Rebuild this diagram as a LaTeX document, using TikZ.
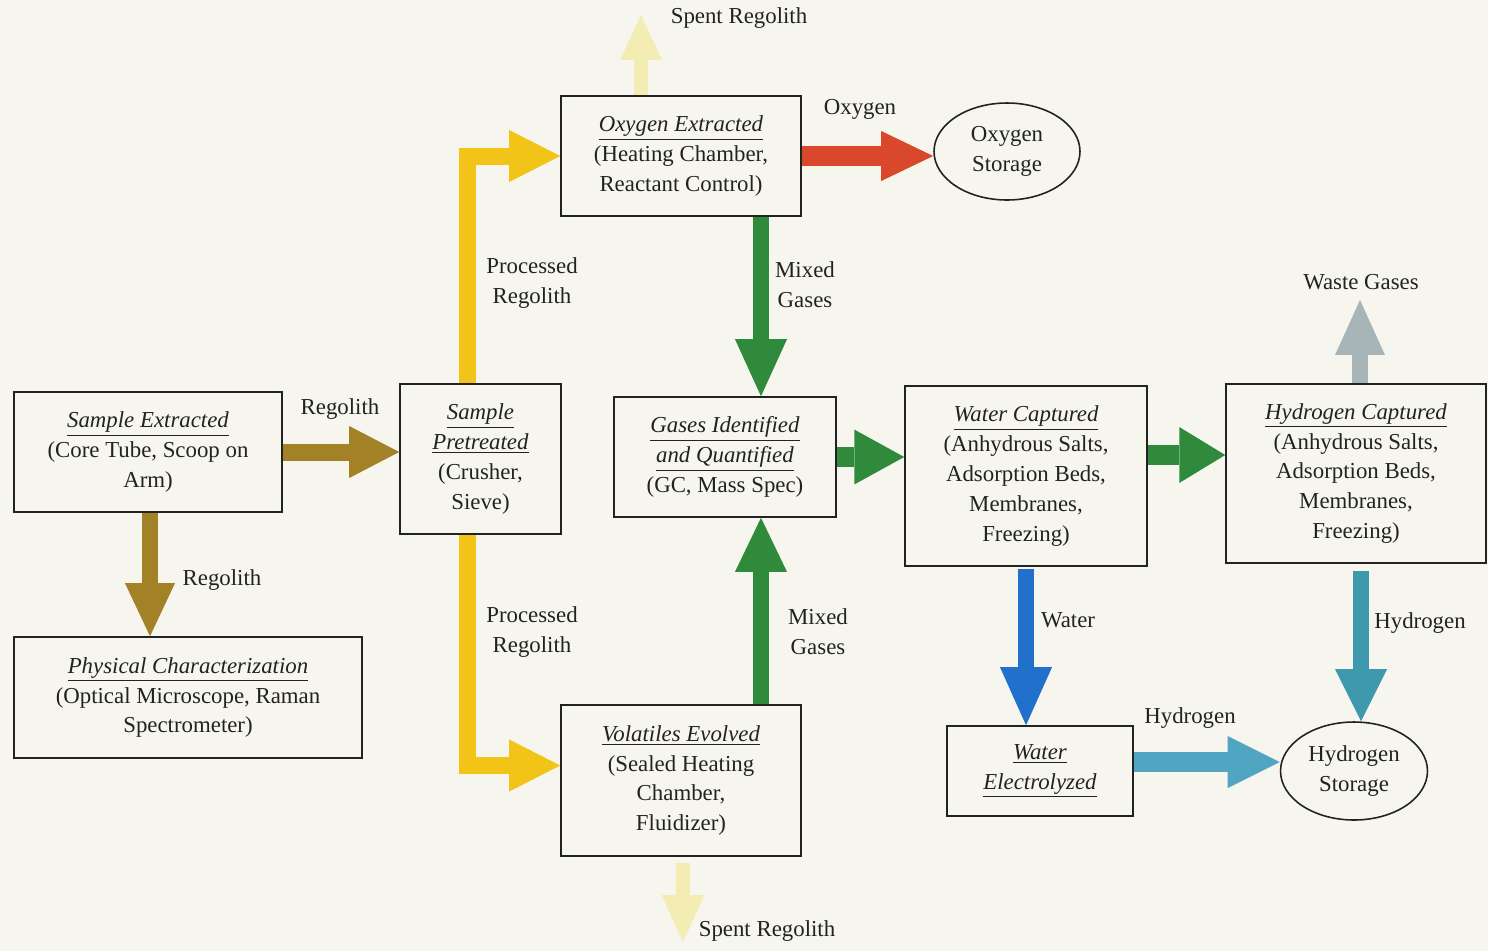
\documentclass[tikz,border=0pt]{standalone}
\usepackage{fontspec}
\setmainfont{Liberation Serif}
\usetikzlibrary{arrows.meta,shapes.geometric,calc}
\definecolor{bgc}{HTML}{F7F6EE}
\definecolor{txt}{HTML}{222222}
\definecolor{brownc}{HTML}{A38126}
\definecolor{yellowc}{HTML}{F2C418}
\definecolor{redc}{HTML}{D9482A}
\definecolor{greenc}{HTML}{2F8A3B}
\definecolor{bluec}{HTML}{2070CC}
\definecolor{tealc}{HTML}{4FA5C2}
\definecolor{teal2c}{HTML}{3F99AE}
\definecolor{grayc}{HTML}{A8B5B8}
\definecolor{palec}{HTML}{F3EDB4}
\begin{document}
\begin{tikzpicture}[x=0.02cm,y=-0.02cm,
  every node/.style={font=\fontsize{13}{17}\selectfont, text=txt},
  procbox/.style={draw=txt, line width=0.9pt, align=center, inner sep=0pt},
  storeel/.style={ellipse, draw=txt, line width=0.9pt, align=center, inner sep=0pt},
  lbl/.style={align=center, inner sep=1pt},
  fat/.style n args={4}{line width=#1, line cap=butt, line join=miter,
     -{Triangle[length=#2,width=#3,line width=0pt]}, draw=#4}]
\fill[bgc] (0,0) rectangle (1488,951);
\useasboundingbox (0,0) rectangle (1488,951);

% boxes
\node[procbox, minimum width=53.6mm, minimum height=24mm] (se) at (148,452)
  {\underline{\textit{Sample Extracted}}\\(Core Tube, Scoop on\\Arm)};
\node[procbox, minimum width=69.6mm, minimum height=24.2mm] (pc) at (188,697.5)
  {\underline{\textit{Physical Characterization}}\\(Optical Microscope, Raman\\Spectrometer)};
\node[procbox, minimum width=32.2mm, minimum height=30mm] (sp) at (480.5,459)
  {\underline{\textit{Sample}}\\\underline{\textit{Pretreated}}\\(Crusher,\\Sieve)};
\node[procbox, minimum width=48mm, minimum height=24mm] (oe) at (681,156)
  {\underline{\textit{Oxygen Extracted}}\\(Heating Chamber,\\Reactant Control)};
\node[storeel, minimum width=29.2mm, minimum height=19.4mm] (os) at (1007,151.5)
  {Oxygen\\Storage};
\node[procbox, minimum width=44.4mm, minimum height=24mm] (gi) at (725,457)
  {\underline{\textit{Gases Identified}}\\\underline{\textit{and Quantified}}\\(GC, Mass Spec)};
\node[procbox, minimum width=48.4mm, minimum height=36mm] (wc) at (1026,476)
  {\underline{\textit{Water Captured}}\\(Anhydrous Salts,\\Adsorption Beds,\\Membranes,\\Freezing)};
\node[procbox, minimum width=52mm, minimum height=35.8mm] (hc) at (1356,473.5)
  {\underline{\textit{Hydrogen Captured}}\\(Anhydrous Salts,\\Adsorption Beds,\\Membranes,\\Freezing)};
\node[procbox, minimum width=48mm, minimum height=30.2mm] (vs) at (681,780.5)
  {\underline{\textit{Volatiles Evolved}}\\(Sealed Heating\\Chamber,\\Fluidizer)};
\node[procbox, minimum width=37.2mm, minimum height=18mm] (we) at (1040,771)
  {\underline{\textit{Water}}\\\underline{\textit{Electrolyzed}}};
\node[storeel, minimum width=29.4mm, minimum height=19.6mm] (hs) at (1354,771)
  {Hydrogen\\Storage};

% free ends
\coordinate (spt) at (641,15);
\coordinate (spb) at (683,942);
\coordinate (wgt) at (1360,300);

% arrows
\draw[fat={3.4mm}{10mm}{10.4mm}{brownc}] (se.east) -- (se.east -| sp.west);
\draw[fat={3.2mm}{10.6mm}{10mm}{brownc}] ([xshift=0.4mm]se.south) -- ([xshift=0.4mm]se.south |- pc.north);
\draw[fat={3.4mm}{10.2mm}{10.4mm}{yellowc}] ([xshift=-2.6mm]sp.north) |- (oe.west);
\draw[fat={3.4mm}{10.2mm}{10.4mm}{yellowc}] ([xshift=-2.6mm]sp.south) |- ([yshift=3mm]vs.west);
\draw[fat={4mm}{10.4mm}{10mm}{redc}] (oe.east) -- (oe.east -| os.west);
\draw[fat={3.2mm}{11.4mm}{10.4mm}{greenc}] ([xshift=16mm]oe.south) -- ([xshift=16mm]oe.south |- gi.north);
\draw[fat={3.2mm}{10.8mm}{10.4mm}{greenc}] ([xshift=16mm]vs.north) -- ([xshift=16mm]vs.north |- gi.south);
\draw[fat={4mm}{10mm}{11mm}{greenc}] (gi.east) -- (gi.east -| wc.west);
\draw[fat={4mm}{9.2mm}{11.2mm}{greenc}] ([yshift=4.2mm]wc.east) -- ([yshift=4.2mm]wc.east -| hc.west);
\draw[fat={3.2mm}{11mm}{10mm}{grayc}] (hc.north -| wgt) -- (wgt);
\draw[fat={3.2mm}{11.6mm}{10.4mm}{bluec}] ([yshift=-0.4mm]wc.south) -- (wc.south |- we.north);
\draw[fat={4mm}{10.4mm}{10.4mm}{tealc}] ([yshift=1.8mm]we.east) -- ([yshift=1.8mm]we.east -| hs.west);
\draw[fat={3.2mm}{10.4mm}{10.4mm}{teal2c}] ([xshift=1mm,yshift=-1.4mm]hc.south) -- ([xshift=1mm]hc.south |- hs.north);
\draw[fat={2.8mm}{9mm}{8.4mm}{palec}] (oe.north -| spt) -- (spt);
\draw[fat={2.8mm}{9.4mm}{8.6mm}{palec}] ([yshift=-1.2mm]vs.south -| spb) -- (spb);

% labels
\node[lbl] (l1) at (739,18) {Spent Regolith};
\node[lbl] (l2) at (860,109) {Oxygen};
\node[lbl] (l3) at (532,283) {Processed\\Regolith};
\node[lbl] (l4) at (805,285) {Mixed\\Gases};
\node[lbl] (l5) at (340,409) {Regolith};
\node[lbl] (l6) at (222,580) {Regolith};
\node[lbl] (l7) at (532,632) {Processed\\Regolith};
\node[lbl] (l8) at (818,632) {Mixed\\Gases};
\node[lbl] (l9) at (1361,282) {Waste Gases};
\node[lbl] (l10) at (1068,620) {Water};
\node[lbl] (l11) at (1420,623) {Hydrogen};
\node[lbl] (l12) at (1190,718) {Hydrogen};
\node[lbl] (l13) at (767,931) {Spent Regolith};
\end{tikzpicture}
\end{document}
